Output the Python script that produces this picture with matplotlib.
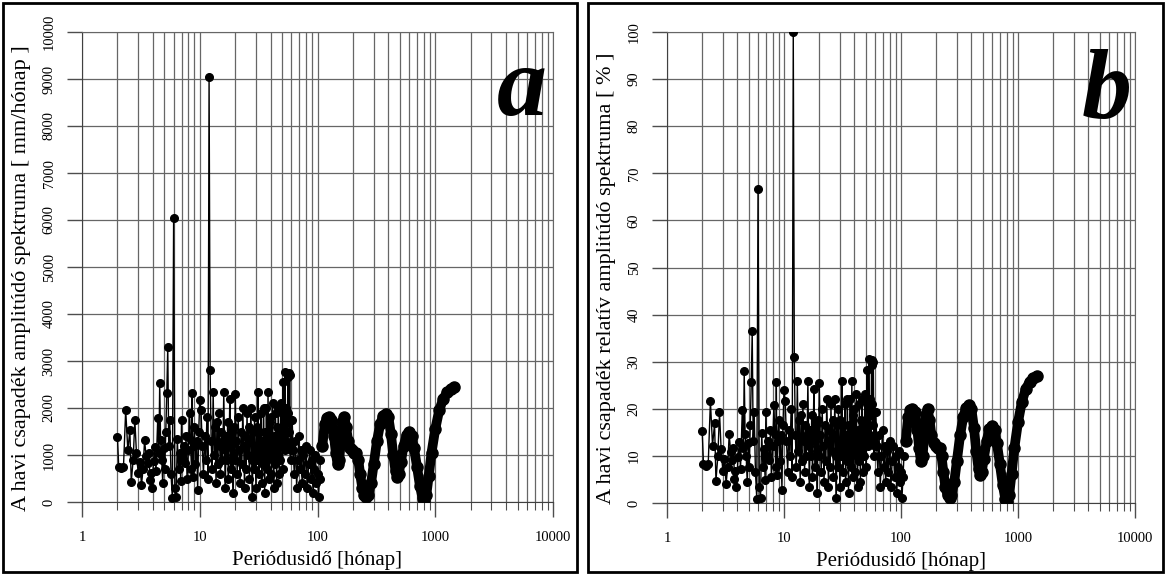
import numpy as np
import matplotlib
matplotlib.use("Agg")
import matplotlib.pyplot as plt
from matplotlib.patches import Rectangle
from matplotlib.ticker import LogLocator, FixedLocator, NullFormatter

plt.rcParams["font.family"] = ["Liberation Serif", "DejaVu Serif"]

# short-period part of the spectrum (period [month], amplitude [mm/month])
per_short = [
    2.00, 2.05, 2.15, 2.25, 2.35, 2.45, 2.55, 2.62, 2.72, 2.81, 2.90, 3.00, 3.10, 3.20,
    3.30, 3.40, 3.50, 3.60, 3.70, 3.77, 3.85, 3.92, 4.05, 4.15, 4.25, 4.40, 4.50, 4.57,
    4.65, 4.75, 4.85, 4.95, 5.05, 5.15, 5.25, 5.35, 5.45, 5.56, 5.70, 5.85, 6.00, 6.15,
    6.30, 6.45, 6.60, 6.75, 6.90, 7.00, 7.15, 7.30, 7.50, 7.65, 7.80, 8.00, 8.20, 8.35,
    8.50, 8.60, 8.70, 8.85, 9.00, 9.20, 9.40, 9.60, 9.80,
    10.0, 10.25, 10.5, 10.75, 11.0, 11.25, 11.5, 11.75, 12.0, 12.25, 12.5, 12.75, 13.0,
    13.25, 13.5, 13.75, 14.0, 14.25, 14.5, 14.75, 15.0, 15.25, 15.5, 15.75, 16.0, 16.25,
    16.5, 16.75, 17.0, 17.25, 17.5, 17.75, 18.0, 18.25, 18.5, 18.75, 19.0, 19.25, 19.5,
    19.75,
    20.0, 20.4, 20.8, 21.2, 21.6, 22.0, 22.4, 22.8, 23.2, 23.6, 24.0, 24.4, 24.8, 25.2,
    25.6, 26.0, 26.4, 26.8, 27.2, 27.6, 28.0, 28.4, 28.8, 29.2, 29.6, 30.0, 30.4, 30.8,
    31.2, 31.6, 32.0, 32.4, 32.8, 33.2, 33.6, 34.0, 34.4, 34.8, 35.2, 35.6, 36.0, 36.4,
    36.8, 37.2, 37.6, 38.0, 38.4, 38.8, 39.2, 39.6,
    40.0, 40.5, 41.0, 41.5, 42.0, 42.5, 43.0, 43.5, 44.0, 44.5, 45.0, 45.5, 46.0, 46.5,
    47.0, 47.5, 48.0, 48.5, 49.0, 49.5, 50.0, 50.5, 51.0, 51.5, 52.0, 52.5, 53.0, 53.5,
    54.0, 54.5, 55.0, 55.5, 56.0, 56.5, 57.0, 57.5, 58.0, 58.5, 59.0, 59.5,
    60.0, 61.0, 62.0, 63.5, 65.0, 66.5, 68.0, 69.5, 71.0, 72.5, 74.0, 76.0, 78.0, 80.0,
    82.0, 84.0, 86.0, 88.0, 90.0, 92.0, 94.0, 96.0, 98.0, 100.0, 102.0, 104.0, 106.0,
]
amp_short = [
    1380, 750, 720, 740, 1960, 1100, 1530, 425, 900, 1745, 1040, 620, 850, 360,
    700, 1320, 980, 830, 1050, 470, 620, 300, 880, 1170, 650, 1790, 1050, 2530,
    1320, 900, 400, 1150, 700, 1500, 2320, 3300, 1200, 1750, 600, 85, 6040, 300,
    100, 1350, 700, 1040, 450, 1740, 900, 1200, 830, 1400, 500, 1100, 1890, 1320,
    700, 2320, 530, 1200, 1600, 800, 1300, 250, 1500,
    2170, 1960, 1200, 600, 1400, 900, 1800, 500, 9050, 2800, 1300, 700, 2340,
    1000, 1600, 400, 1700, 800, 1900, 1200, 600, 1500, 900, 1300, 2340, 1100,
    300, 1400, 900, 1700, 500, 1250, 2200, 1200, 700, 1500, 1000, 200, 1600,
    900,
    2300, 1300, 600, 1800, 1100, 400, 1500, 800, 2000, 1200, 300, 1400, 700, 1900,
    1000, 1600, 500, 1300, 2000, 900, 100, 1500, 700, 1800, 1100, 300, 1600, 900,
    2340, 1200, 600, 1500, 1000, 1900, 400, 1300, 800, 2000, 1100, 200, 1500, 900,
    2000, 1200, 700, 2340, 1400, 500, 1700, 1000,
    1800, 600, 1300, 2100, 900, 300, 1400, 800, 1900, 1100, 400, 1600, 1000, 2000,
    1300, 600, 1500, 900, 2100, 1200, 1600, 700, 2550, 1400, 2000, 1100, 2770, 1800,
    1300, 2000, 1200, 1700, 2650, 1900, 2740, 1500, 2700, 1200, 900, 1750,
    1100, 1750, 1100, 600, 1300, 300, 900, 1400, 700, 1100, 400, 1000, 600, 1200,
    300, 800, 1100, 500, 900, 200, 700, 1000, 400, 600, 100, 500, 900,
]

# long-period part (smooth leakage curve)
per_long = [
    110, 115, 120, 125, 131, 138, 143, 148, 153, 158, 163, 169, 175, 182, 190, 198,
    206, 214, 222, 230, 240, 250, 260, 270, 285, 300, 320, 340, 360, 380, 400, 420,
    440, 460, 476, 490, 510, 540, 570, 600, 630, 660, 700, 740, 780, 810, 840, 880,
    930, 1000, 1080, 1170, 1260, 1350, 1440,
]
amp_long = [
    1200, 1650, 1780, 1800, 1750, 1400, 1050, 800, 900, 1300, 1700, 1800, 1600, 1300,
    1150, 1100, 1050, 1050, 900, 600, 300, 150, 100, 150, 400, 800, 1300, 1650, 1830,
    1880, 1800, 1450, 1000, 650, 530, 600, 850, 1200, 1420, 1480, 1400, 1150, 750, 350,
    80, 20, 150, 550, 1050, 1550, 1950, 2200, 2330, 2400, 2440,
]

x_ticks = [1, 10, 100, 1000, 10000]
x_label = "Periódusidő [hónap]"
y_label_a = "A havi csapadék amplitúdó spektruma [ mm/hónap ]"
y_label_b = "A havi csapadék relatív amplitúdó spektruma [ % ]"

per_short = np.array(per_short); amp_short = np.array(amp_short, dtype=float)
per_long = np.array(per_long); amp_long = np.array(amp_long, dtype=float)
amp_max = max(amp_short.max(), amp_long.max())

fig = plt.figure(figsize=(11.66, 5.75), dpi=100)
GRID = "0.4"


def panel(rect, ys, ymax, ystep, ylabel, letter, letter_xy, ylabel_xy):
    ax = fig.add_axes(rect)
    ax.set_xscale("log")
    ax.set_xlim(1, 10000)
    ax.set_ylim(0, ymax)
    ax.xaxis.set_major_locator(FixedLocator(x_ticks))
    ax.xaxis.set_minor_locator(LogLocator(base=10, subs=np.arange(2, 10)))
    ax.xaxis.set_minor_formatter(NullFormatter())
    ax.set_xticklabels([str(t) for t in x_ticks])
    ax.set_yticks(np.arange(0, ymax + ystep / 2, ystep))
    ax.grid(True, which="both", axis="x", color=GRID, lw=0.9)
    ax.grid(True, which="major", axis="y", color=GRID, lw=0.9)
    ax.tick_params(axis="x", which="major", length=11, width=1, color="0.3", labelsize=10.5, pad=10)
    ax.tick_params(axis="x", which="minor", length=6, width=0.8, color="0.3")
    ax.tick_params(axis="y", which="major", length=11, width=1, color="0.3", labelsize=10.5, pad=8)
    for lab in ax.get_yticklabels():
        lab.set_rotation(90)
        lab.set_va("center")
    for s in ax.spines.values():
        s.set_color(GRID)
    ax.spines["left"].set_color("0.25")
    ax.spines["bottom"].set_color("0.25")
    ax.set_axisbelow(True)

    short, long_ = ys
    ax.plot(per_short, short, color="black", lw=1.0, marker="o", ms=5.5, zorder=3)
    ax.plot(per_long, long_, color="black", lw=7, solid_capstyle="round", zorder=3)
    ax.plot(per_long, long_, color="black", lw=0, marker="o", ms=8, zorder=3)

    ax.set_xlabel(x_label, fontsize=15, labelpad=5)
    fig.text(ylabel_xy[0], ylabel_xy[1], ylabel, rotation=90, fontsize=16,
             ha="center", va="center")
    fig.text(letter_xy[0], letter_xy[1], letter, fontsize=72, fontweight="bold",
             fontstyle="italic", ha="center", va="baseline")
    return ax


panel([82 / 1166, 73 / 575, 471 / 1166, 470 / 575],
      (amp_short, amp_long), 10000, 1000, y_label_a, "a",
      (522 / 1166, 1 - 115 / 575), (22 / 1166, 1 - 278 / 575))

panel([667 / 1166, 72 / 575, 468 / 1166, 471 / 575],
      (amp_short / amp_max * 100, amp_long / amp_max * 100), 100, 10, y_label_b, "b",
      (1107 / 1166, 1 - 118 / 575), (607 / 1166, 1 - 278 / 575))

# panel frames
for x0, x1 in [(3, 577), (588, 1163)]:
    fig.patches.append(Rectangle((x0 / 1166, 3 / 575), (x1 - x0) / 1166, 569 / 575,
                                 transform=fig.transFigure, fill=False, lw=2, ec="black"))

fig.savefig("out.png", dpi=100)
